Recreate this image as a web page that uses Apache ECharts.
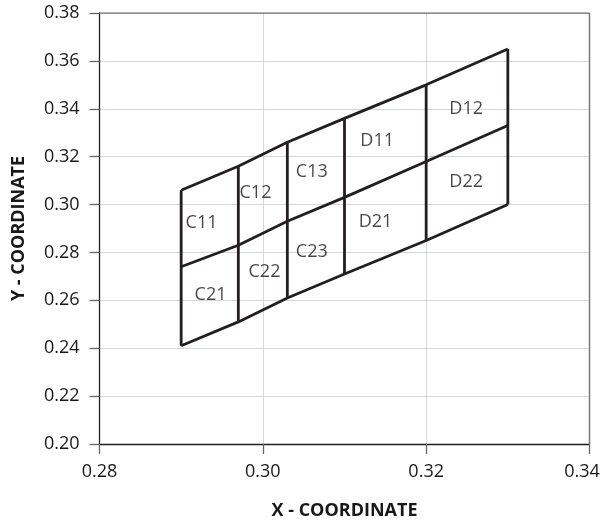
<!DOCTYPE html>
<html>
<head>
<meta charset="utf-8">
<script src="https://cdn.jsdelivr.net/npm/echarts@6/dist/echarts.min.js"></script>
<style>
html,body{margin:0;padding:0;background:#fff;}
#chart{width:601px;height:525px;}
</style>
</head>
<body>
<div id="chart"></div>
<script>
// Column x positions of the mesh
var meshX = [0.290, 0.297, 0.303, 0.310, 0.320, 0.330];
// Row lines (y values at each meshX)
var topY    = [0.306, 0.316, 0.326, 0.336, 0.350, 0.365];
var middleY = [0.274, 0.283, 0.293, 0.303, 0.318, 0.333];
var bottomY = [0.241, 0.251, 0.261, 0.271, 0.285, 0.300];
// Cell labels and their positions
var cellNames = ['C11','C12','C13','D11','D12','C21','C22','C23','D21','D22'];
var cellX = [0.2925, 0.2991, 0.3060, 0.3140, 0.3249, 0.2936, 0.3002, 0.3060, 0.3138, 0.3249];
var cellY = [0.2924, 0.3050, 0.3137, 0.3266, 0.3398, 0.2622, 0.2717, 0.2803, 0.2929, 0.3096];
// Axis ticks
var xTicks = [0.28, 0.30, 0.32, 0.34];
var yTicks = [0.20, 0.22, 0.24, 0.26, 0.28, 0.30, 0.32, 0.34, 0.36, 0.38];

var FONT = '"Open Sans", "Noto Sans", sans-serif';
var TEXT = '#1a1718';
var lineStyle = {color: '#231f20', width: 2.8};

function poly(ys) {
  return meshX.map(function (x, i) { return [x, ys[i]]; });
}
var series = [];
// top/right frame
series.push({
  type: 'line', data: [[xTicks[0], yTicks[yTicks.length-1]], [xTicks[xTicks.length-1], yTicks[yTicks.length-1]], [xTicks[xTicks.length-1], yTicks[0]]],
  symbol: 'none', lineStyle: {color: '#777', width: 1.5}, silent: true, animation: false, z: 1
});
[topY, middleY, bottomY].forEach(function (ys) {
  series.push({type: 'line', data: poly(ys), symbol: 'none', lineStyle: lineStyle, silent: true, animation: false});
});
meshX.forEach(function (x, i) {
  series.push({type: 'line', data: [[x, bottomY[i]], [x, topY[i]]], symbol: 'none', lineStyle: lineStyle, silent: true, animation: false});
});
series.push({
  type: 'scatter', symbolSize: 0, animation: false, silent: true,
  data: cellNames.map(function (n, i) { return {name: n, value: [cellX[i], cellY[i]]}; }),
  label: {show: true, position: 'inside', formatter: '{b}', color: TEXT, fontSize: 18, fontFamily: FONT}
});

var xMax = xTicks[xTicks.length-1];
var chart = echarts.init(document.getElementById('chart'));
chart.setOption({
  animation: false,
  grid: {left: 99.5, right: 11.5, top: 13, bottom: 81, containLabel: false, outerBoundsMode: 'none'},
  xAxis: {
    type: 'value', min: xTicks[0], max: xMax, interval: 0.02,
    name: 'X - COORDINATE', nameLocation: 'middle', nameGap: 58,
    nameTextStyle: {fontFamily: FONT, fontWeight: 'bold', fontSize: 18, color: TEXT},
    axisLine: {lineStyle: {color: '#231f20', width: 1.3}},
    axisTick: {show: true, length: 10, lineStyle: {color: '#666', width: 1.3}},
    axisLabel: {
      formatter: function (v) {
        var s = v.toFixed(2);
        return Math.abs(v - xMax) < 1e-9 ? '{last|' + s + '}' : s;
      },
      rich: {last: {fontFamily: FONT, fontSize: 18, color: TEXT, padding: [0, 15, 0, 0]}},
      fontFamily: FONT, fontSize: 18, color: TEXT, margin: 19
    },
    splitLine: {show: true, lineStyle: {color: '#d3d6de', width: 1}}
  },
  yAxis: {
    type: 'value', min: yTicks[0], max: yTicks[yTicks.length-1], interval: 0.02,
    name: 'Y - COORDINATE', nameLocation: 'middle', nameGap: 72,
    nameTextStyle: {fontFamily: FONT, fontWeight: 'bold', fontSize: 18, color: TEXT},
    axisLine: {show: true, lineStyle: {color: '#231f20', width: 1.3}},
    axisTick: {show: true, length: 10, lineStyle: {color: '#666', width: 1.3}},
    axisLabel: {formatter: function (v) { return v.toFixed(2); }, fontFamily: FONT, fontSize: 18, color: TEXT, margin: 20},
    splitLine: {show: true, lineStyle: {color: '#d3d6de', width: 1}}
  },
  series: series
});
</script>
</body>
</html>
